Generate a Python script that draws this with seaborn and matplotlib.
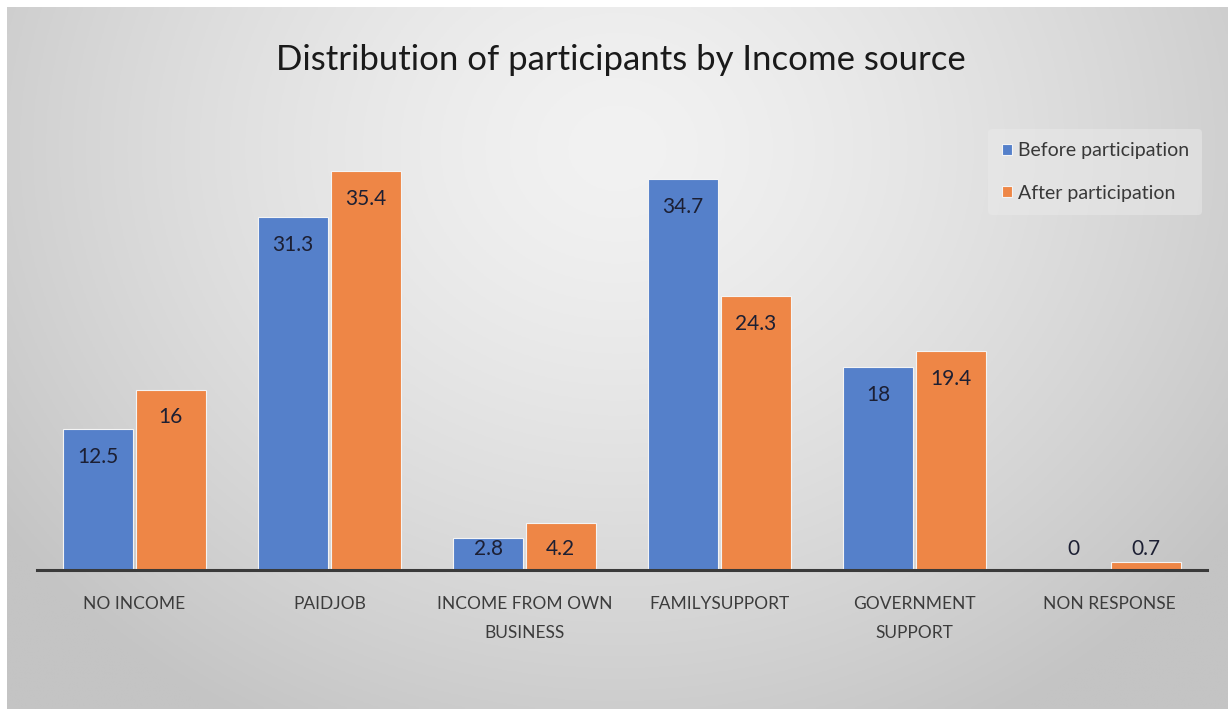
import numpy as np
import pandas as pd
import matplotlib
matplotlib.use("Agg")
import matplotlib.pyplot as plt
import seaborn as sns

categories = ["NO INCOME", "PAIDJOB", "INCOME FROM OWN\nBUSINESS", "FAMILYSUPPORT",
              "GOVERNMENT\nSUPPORT", "NON RESPONSE"]
before = [12.5, 31.3, 2.8, 34.7, 18, 0]
after = [16, 35.4, 4.2, 24.3, 19.4, 0.7]
series = ["Before participation", "After participation"]
colors = ["#5580CA", "#EE8646"]

df = pd.DataFrame({
    "category": categories * 2,
    "value": before + after,
    "series": [series[0]] * len(categories) + [series[1]] * len(categories),
})

sns.set_theme(style="white")
plt.rcParams["font.family"] = ["Lato", "DejaVu Sans"]

W, H = 1228, 709
fig = plt.figure(figsize=(W / 100, H / 100), dpi=100, facecolor="white")

# soft radial grey backdrop of the chart panel
bg = fig.add_axes([7 / W, 0, 1 - 7 / W, 1 - 7 / H], zorder=-5)
gx, gy = np.meshgrid(np.linspace(0, 1, 400), np.linspace(0, 1, 240))
r = np.sqrt(((gx - 0.5) / 0.66) ** 2 + ((gy - 0.2) / 1.0) ** 2)
shade = np.clip(242 - 50 * r ** 1.4, 196, 245) / 255.0
bg.imshow(np.dstack([shade] * 3), aspect="auto", extent=[0, 1, 0, 1], origin="upper")
bg.set_axis_off()

ax = fig.add_axes([37 / W, (H - 570) / H, 1170 / W, 445 / H])
ax.set_facecolor("none")
sns.barplot(data=df, x="category", y="value", hue="series", hue_order=series,
            palette=colors, width=0.745, gap=0.03, ax=ax,
            edgecolor="#f4f4f4", linewidth=0.8, saturation=1, legend=True)

ax.set_ylim(0, 39.45)
ax.set_xlim(-0.5, len(categories) - 0.5)
ax.set_xlabel("")
ax.set_ylabel("")
ax.set_yticks([])
for s in ["left", "right", "top"]:
    ax.spines[s].set_visible(False)
ax.spines["bottom"].set_color("#3a3a3a")
ax.spines["bottom"].set_linewidth(2.2)
ax.tick_params(axis="x", length=0, pad=19, labelsize=12.5, colors="#3c3c3c")
for t in ax.get_xticklabels():
    t.set_linespacing(2.0)

# value labels placed just inside the bar tops
for cont in ax.containers:
    for bar, v in zip(cont, cont.datavalues):
        x = bar.get_x() + bar.get_width() / 2
        y = max(v - 2.48, 1.9)
        ax.text(x, y, f"{v:g}", ha="center", va="center", fontsize=15,
                color="#1c1f33")

leg = ax.legend(loc="upper right", bbox_to_anchor=(1212 / W, 1 - 119 / H),
                bbox_transform=fig.transFigure, frameon=True, fontsize=14,
                handlelength=0.5, handleheight=0.5, handletextpad=0.3,
                labelspacing=1.3, borderpad=0.7, labelcolor="#383838")
leg.get_frame().set_facecolor("#eaeaea")
leg.get_frame().set_alpha(0.5)
leg.get_frame().set_edgecolor("none")

fig.text(621 / W, 1 - 60 / H, "Distribution of participants by Income source",
         ha="center", va="center", fontsize=25, color="#1a1a1a")

fig.savefig("out.png", dpi=100, facecolor="white")
